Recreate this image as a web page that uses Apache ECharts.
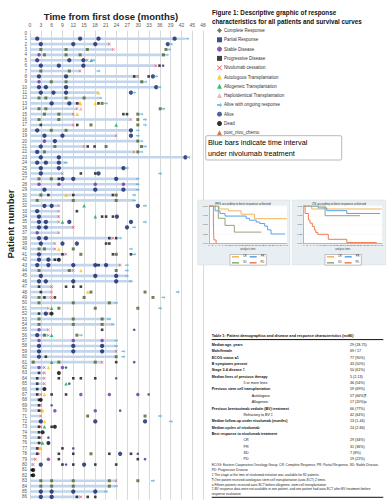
<!DOCTYPE html>
<html><head><meta charset="utf-8">
<script src="https://cdn.jsdelivr.net/npm/echarts@6/dist/echarts.min.js"></script>
<style>html,body{margin:0;padding:0;background:#fff}#c{width:387px;height:500px}</style>
</head><body><div id="c"></div>
<script>
// ---------- DATA ----------
const patientIds = []; for (let i = 0; i <= 86; i++) patientIds.push(String(i));
// end of nivolumab treatment (months), index = patient number
const barEnd = [null,43,22,23,37.5,16,35,14,30,31.5,35,19,19,13.1,13.1,12,28,12,28,24,30,15,29,43,10,27,9,30,30,30,23,29,8,8,8,8,12,8,23,7,7,10,8,25,12,27,28,6,6,6,24,5,5.6,22,23,5,5,24,24,24,24,20,4,4,4,4,4,3,3,3,3,3,3,3,3.5,3,3,2.5,2.5,1.5,1,1,1,24,24,21,14];
// events: [patient, month]
const crPts = [[3,3],[3,10],[3,15.9],[3,37.7],[4,4],[4,10],[4,13.9],[4,37],[7,3],[7,10.9],[9,5.9],[9,10],[9,31],[12,2.5],[12,4.4],[12,10],[12,15],[13,20],[14,2.5],[14,4.4],[14,36.1],[15,4],[15,8],[15,29.9],[16,2.5],[16,8],[16,29.9],[17,16.9],[17,29.9],[18,5.9],[18,10],[20,29.9],[21,6.9],[21,21.1],[21,30.9],[22,4],[22,29.9],[27,2.5],[27,5.9],[30,3],[30,23.9],[31,2],[31,12],[31,23.9],[40,2.5],[40,4],[40,12],[41,14.1],[41,23.9],[44,2.5],[44,10.9],[44,23.9],[48,16.9],[48,31.9],[49,2.5],[49,15],[49,34.1],[50,2.5],[50,12],[50,22],[51,8],[51,18.1],[51,29.9],[53,2.5],[53,12],[53,20],[54,2.5],[54,12],[54,20],[56,4],[56,13],[60,23.9],[61,0.9],[61,8],[61,18.1],[71,16],[71,31.9],[78,16.9],[83,3],[83,6],[83,12],[83,22],[83,29.9],[84,3],[84,6],[84,12],[84,22]];
const prPts = [[1,2],[1,13.9],[1,19],[1,40.1],[2,3],[2,12],[2,18.1],[2,38.2],[5,2],[5,10.9],[5,14.8],[6,3],[6,8],[6,14.8],[8,2.5],[8,10],[8,34.1],[10,2.5],[10,4.4],[10,10],[10,35],[11,3],[11,6.5],[11,10],[11,28],[13,6],[13,10.9],[18,2],[18,28],[19,4],[19,9],[19,28],[20,6.9],[21,3],[22,2],[23,3],[23,8],[23,43.1],[24,2],[24,4.4],[24,8],[25,3],[25,8],[25,25.9],[26,3],[26,19],[27,9],[27,12],[27,23.9],[29,4],[29,18.1],[29,25.9],[32,4],[32,6],[32,29.9],[33,2],[34,2.5],[34,24.1],[35,2.5],[35,4.4],[35,10.9],[35,28],[36,2.5],[36,4.4],[36,26.9],[38,2.5],[38,4.4],[39,3],[39,9],[39,13],[41,2.5],[42,2.5],[42,5.1],[43,2],[43,5.1],[43,12],[43,18.1],[43,21.1],[45,3],[45,18.1],[45,23.9],[46,2.5],[46,4.4],[46,12],[46,23.9],[52,4.4],[56,2],[58,2.5],[58,12],[58,20],[59,2.5],[59,12],[59,20],[60,2.5],[72,3],[72,18.1],[72,31.9],[78,25],[80,3],[80,15],[85,3],[85,6],[85,12],[85,18.1],[86,3],[86,6]];
const sdPts = [[4,2.5],[9,2.5],[20,4],[28,2.5],[28,8],[28,18.1],[28,25.9],[37,2],[55,2.5],[57,2.5],[57,12],[57,20],[62,2.5],[62,9],[67,14.1],[67,22],[67,29.9],[70,6.9],[70,18.1],[79,5.1]];
const pdPts = [[6,35.9],[8,28.9],[8,32.9],[13,13.1],[13,19],[15,25.9],[15,26.9],[17,3],[17,13.1],[21,16],[21,17.9],[26,14.1],[26,18.1],[27,8],[30,5.1],[30,12],[30,23],[33,13],[34,20],[34,21.1],[34,23],[38,22],[38,23.9],[39,21.1],[39,22],[41,9],[41,23],[41,28],[42,6.9],[43,19],[47,2.5],[47,10],[47,12],[47,14.1],[48,3],[49,4],[49,6.9],[52,2.5],[55,20],[60,4.4],[61,23.9],[63,2.5],[64,2],[64,8],[64,12],[64,14.1],[64,18.1],[65,2],[66,2],[67,2],[67,6],[67,10],[68,2.5],[69,2.5],[70,2.5],[73,2.5],[73,6],[74,2.5],[75,2.5],[76,2.5],[77,2],[77,9],[78,2],[78,8],[78,12],[78,22],[78,28],[79,8],[79,29.9],[80,9],[80,12],[80,18.1],[80,23.9],[81,0.5],[82,0.5],[86,13],[86,16],[86,18.1]];
const stopPts = [[2,22],[3,23.1],[5,15.9],[6,34.9],[7,13.9],[8,29.9],[13,13.6],[14,13.1],[15,12],[16,28],[17,12],[19,23.9],[21,15],[22,28.9],[26,9],[32,8],[33,8],[34,8],[35,8],[36,12],[37,8],[38,23],[39,6.9],[40,6.9],[41,10],[43,25],[44,12],[47,6],[48,6],[49,6],[51,5.1],[52,5.6],[55,5.1],[56,5.1],[59,23.9],[61,20],[62,4],[63,4],[64,4],[65,4],[67,3],[69,3],[70,3],[71,3],[73,3],[75,3],[76,3],[77,2.5],[78,2.5],[79,1.5],[80,0.9],[83,23.9],[86,14.1]];
const autoPts = [[11,19],[13,14],[13,18.1],[15,13.1],[30,10],[40,8],[44,14.1],[48,16],[62,5.1],[67,4],[70,3.5],[72,4],[77,3]];
const alloPts = [[5,17],[17,23.9],[32,15],[34,18.1],[35,9],[51,6],[56,6],[61,6],[65,10],[73,4],[76,3.5]];
const haploPts = [[14,14.1]];
const ongoingPts = [[1,43.6],[2,39.1],[3,38.6],[4,38],[5,17.6],[7,19],[8,35],[9,32],[10,35.9],[11,28.9],[12,19.5],[13,21.1],[14,37],[15,30.9],[16,31.9],[17,31.9],[18,29.9],[19,29.9],[20,30.9],[21,31.9],[22,30.9],[23,44],[24,10],[25,26.9],[26,36.1],[27,29.9],[28,29.9],[29,29.9],[30,28.9],[31,28.9],[32,31.9],[35,31.9],[36,28.9],[38,25],[40,28],[41,28.9],[43,26.9],[44,26.9],[45,26.9],[46,28],[48,41],[49,37],[50,23.9],[51,36.1],[53,22],[54,23],[56,14.1],[57,23.9],[58,23.9],[59,25.9],[60,25.9],[71,36.1],[72,39.1],[83,34.1],[84,23.9],[85,21.1]];
const alivePts = [[6,36.9],[55,28.9],[61,28.9],[62,10],[64,23.9],[65,10.9],[67,32.9],[69,6],[70,25],[75,5.1],[77,12],[78,29.9],[79,31.9],[80,10]];
const deadPts = [[42,8],[52,6],[63,8],[66,4],[68,3],[73,6.9],[74,3.5],[76,5.1],[81,0.9],[82,0.9]];
const postChemoPts = [];

// Kaplan-Meier curves: [month, survival]
const pfsCR = [[0,1],[6,0.92],[11.5,0.87],[19,0.78],[27,0.66],[46,0.66]];
const pfsPR = [[0,1],[3.6,0.87],[6.5,0.8],[9.5,0.73],[22,0.67],[24,0.62],[28,0.57],[30,0.53],[33,0.46],[34.7,0.36],[36.7,0.25],[45,0.25]];
const pfsSD = [[0,1],[5.5,0.67],[9.5,0.48],[15,0.3],[31,0.3]];
const pfsPD = [[0,1],[2.6,0.55],[2.9,0.09],[4.2,0],[4.4,0]];
const osCR = [[0,1],[4.7,0.92],[46,0.92]];
const osPR = [[0,1],[8.6,0.95],[13.6,0.875],[25.4,0.8],[45,0.8]];
const osSD = [[0,1],[12.6,0.74],[33.2,0.74]];
const osPD = [[0,1],[0.8,0.8],[2.75,0.625],[3.7,0.54],[5.1,0.45],[6.3,0.36],[7.1,0.29],[8.3,0.24],[14.5,0.107],[25.4,0.02],[43,0.02]];

// Table 1
const tableLabels = ["Median age, years","Male/female","ECOG status \u22641","B symptoms present","Stage 3-4 disease \u2021","Median lines of previous therapy","5 or more lines","Previous stem cell transplantation","Autologous","Allogeneic","Previous brentuximab vedotin (BV) treatment","Refractory to BV \u2021","Median follow-up under nivolumab (months)","Median cycles of nivolumab","Best response to nivolumab treatment","CR","PR","SD","PD"];
const tableValues = ["29 (18-75)","69 / 17","77 (90%)","43 (50%)","50 (61%)","5 (2-13)","46 (54%)","59 (69%)","57 (66%)\u00b6","17 (20%)a","66 (77%)","42 (64%)","13 (1-44)","24 (2-84)","","29 (34%)","31 (36%)","7 (8%)","19 (22%)"];
const tableIndent = [0,0,0,0,0,0,1,0,2,2,0,1,0,0,0,1,1,1,1];
const footnotes = ["ECOG: Eastern Cooperative Oncology Group, CR: Complete Response, PR: Partial Response, SD: Stable Disease,","PD: Progressive Disease","\u2021 The stage at the time of nivolumab initiation was available for 82 patients","\u00b6 One patient received autologous stem cell transplantation (auto-SCT) 2 times","a Fifteen patients received auto-SCT before allogeneic stem cell transplantation","\u2021 BV response data were not available in one patient, and one patient had auto-SCT after BV treatment before","response evaluation"];

// ---------- CHART ----------
const NARROW = '"Liberation Sans Narrow","Liberation Sans",Arial,sans-serif';
const SANS = '"Liberation Sans",Arial,sans-serif';
const X_PATH = 'path://M1,0L5,4L9,0L10,1L6,5L10,9L9,10L5,6L1,10L0,9L4,5L0,1Z';
const ARROW_PATH = 'path://M0,3L6,3L6,0L10,5L6,10L6,7L0,7Z';
const flip = a => a.map(p => [p[1], p[0]]);

function ev(name, pts, symbol, size, color, extra) {
  return Object.assign({
    name, type: 'scatter', xAxisIndex: 0, yAxisIndex: 0, data: flip(pts),
    symbol, symbolSize: size, itemStyle: { color }, silent: true, z: 5
  }, extra || {});
}
function km(name, data, color, idx) {
  return { name, type: 'line', step: 'end', xAxisIndex: idx, yAxisIndex: idx, data,
    symbol: 'none', lineStyle: { color, width: 1 }, itemStyle: { color }, z: 30, silent: true };
}
const KC = { CR: '#f2b35c', PR: '#5aa2e8', SD: '#93a67a', PD: '#ef7d52' };

const graphics = [];
graphics.push({ type: 'text', x: 111, y: 16, style: { text: 'Time from first dose (months)', fontSize: 9.5, fontWeight: 'bold', fontFamily: NARROW, fill: '#222', align: 'center', verticalAlign: 'middle' } });
graphics.push({ type: 'text', x: 10, y: 224, rotation: Math.PI / 2, style: { text: 'Patient number', fontSize: 9.5, fontWeight: 'bold', fontFamily: NARROW, fill: '#222', align: 'center', verticalAlign: 'middle' } });
graphics.push({ type: 'text', x: 212, y: 12, style: { text: 'Figure 1: Descriptive graphic of response', fontSize: 6.3, fontWeight: 'bold', fontFamily: NARROW, fill: '#111', align: 'left', verticalAlign: 'middle' } });
graphics.push({ type: 'text', x: 212, y: 21.5, style: { text: 'characteristics for all patients and survival curves', fontSize: 6.3, fontWeight: 'bold', fontFamily: NARROW, fill: '#111', align: 'left', verticalAlign: 'middle' } });
// note box
graphics.push({ type: 'rect', shape: { x: 205.7, y: 135.7, width: 136, height: 24.3, r: 1.5 }, style: { fill: '#fff', stroke: '#a6a6a6', lineWidth: 0.8 }, z: 1 });
graphics.push({ type: 'text', x: 208, y: 142.7, z: 2, style: { text: 'Blue bars indicate time interval', fontSize: 7.3, fontFamily: SANS, fill: '#000', align: 'left', verticalAlign: 'middle' } });
graphics.push({ type: 'text', x: 208, y: 153.3, z: 2, style: { text: 'under nivolumab treatment', fontSize: 7.3, fontFamily: SANS, fill: '#000', align: 'left', verticalAlign: 'middle' } });
// KM panels
[[197.7, 92.3, 243, 'PFS according to best response achieved'], [292.3, 93.4, 339, 'OS according to best response achieved']].forEach(([x, w, cx, t]) => {
  graphics.push({ type: 'rect', shape: { x, y: 200, width: w, height: 65 }, style: { fill: '#e8eef2', stroke: '#d5dde3', lineWidth: 0.5 }, z: 20 });
  graphics.push({ type: 'text', x: cx, y: 203.4, z: 21, style: { text: t, fontSize: 3, fontFamily: SANS, fill: '#333', align: 'center', verticalAlign: 'middle' } });
});
graphics.push({ type: 'rect', shape: { x: 209, y: 205.5, width: 78, height: 38 }, style: { fill: '#fff' }, z: 21 });
graphics.push({ type: 'rect', shape: { x: 303.7, y: 205.5, width: 78.5, height: 38 }, style: { fill: '#fff' }, z: 21 });
// table
graphics.push({ type: 'text', x: 211.7, y: 335.8, style: { text: 'Table 1: Patient demographics and disease and response characteristics (n=86)', fontSize: 3.75, fontWeight: 'bold', fontFamily: SANS, fill: '#111', align: 'left', verticalAlign: 'middle' } });
graphics.push({ type: 'line', shape: { x1: 211.7, y1: 339.6, x2: 383.3, y2: 339.6 }, style: { stroke: '#111', lineWidth: 1 } });
const indentX = [211.7, 243.5, 251.7];
tableLabels.forEach((lab, i) => {
  const y = 345 + i * 6.35;
  graphics.push({ type: 'text', x: indentX[tableIndent[i]], y, style: { text: lab, fontSize: 3.6, fontWeight: tableIndent[i] ? 'normal' : 'bold', fontFamily: SANS, fill: '#111', align: 'left', verticalAlign: 'middle' } });
  if (tableValues[i]) graphics.push({ type: 'text', x: 350, y, style: { text: tableValues[i], fontSize: 3.6, fontFamily: SANS, fill: '#111', align: 'left', verticalAlign: 'middle' } });
});
footnotes.forEach((f, i) => {
  graphics.push({ type: 'text', x: 211.7, y: 465 + i * 4.85, style: { text: f, fontSize: 3.25, fontFamily: SANS, fill: '#222', align: 'left', verticalAlign: 'middle' } });
});
graphics.push({ type: 'line', shape: { x1: 211.7, y1: 497.3, x2: 383.3, y2: 497.3 }, style: { stroke: '#111', lineWidth: 1 } });

const kmAxisX = (g) => ({ gridIndex: g, type: 'value', min: 0, max: 46, interval: 2, z: 30,
  axisLine: { show: true, lineStyle: { color: '#777', width: 0.5 } }, axisTick: { show: false }, splitLine: { show: false },
  axisLabel: { fontSize: 2.4, color: '#444', margin: 1.5, fontFamily: SANS },
  name: 'analysis time', nameLocation: 'middle', nameGap: 4.5, nameTextStyle: { fontSize: 2.6, color: '#444' } });
const kmAxisY = (g) => ({ gridIndex: g, type: 'value', min: 0, max: 1, interval: 0.25, z: 30,
  axisLine: { show: true, lineStyle: { color: '#777', width: 0.5 } }, axisTick: { show: false },
  splitLine: { show: true, lineStyle: { color: '#eee', width: 0.4 } },
  axisLabel: { fontSize: 2.4, color: '#444', margin: 1.5, formatter: v => v.toFixed(2) } });
const kmLegend = (left) => ({ data: ['CR', 'PR', 'SD', 'PD'], left, top: 254.5, width: 36, orient: 'horizontal', z: 30,
  itemWidth: 7, itemHeight: 1.5, itemGap: 3, padding: [0.8, 2, 0.8, 2], backgroundColor: '#fff', borderColor: '#888', borderWidth: 0.5,
  icon: 'rect', textStyle: { fontSize: 2.6, color: '#333', padding: [0, 0, 0, -1] }, selectedMode: false });

const option = {
  animation: false,
  textStyle: { fontFamily: SANS },
  grid: [
    { left: 30, top: 30.6, width: 173.1, height: 469 },
    { left: 209, top: 206, width: 77.7, height: 37.3 },
    { left: 303.7, top: 206, width: 78, height: 37.3 }
  ],
  xAxis: [
    { gridIndex: 0, type: 'value', position: 'top', min: 0, max: 48, interval: 3,
      axisLine: { show: false }, axisTick: { show: false },
      axisLabel: { fontSize: 5, color: '#595959', margin: 3 },
      splitLine: { show: true, lineStyle: { color: '#d9d9d9', width: 1 } } },
    kmAxisX(1), kmAxisX(2)
  ],
  yAxis: [
    { gridIndex: 0, type: 'category', data: patientIds, inverse: true,
      axisLine: { show: false }, axisTick: { show: false },
      axisLabel: { fontSize: 4.6, color: '#595959', interval: 0, margin: 3 } },
    kmAxisY(1), kmAxisY(2)
  ],
  legend: [
    { left: 212, top: 23, orient: 'vertical', itemWidth: 5, itemHeight: 5, itemGap: 4.3, selectedMode: false,
      textStyle: { fontSize: 4.5, color: '#333', padding: [0, 0, 0, -3] },
      data: [
        { name: 'Complete Response', icon: 'diamond' },
        { name: 'Partial Response', icon: 'rect' },
        { name: 'Stable Disease', icon: 'circle' },
        { name: 'Progressive Disease', icon: 'rect' },
        { name: 'Nivolumab cessation', icon: X_PATH },
        { name: 'Autologous Transplantation', icon: 'triangle' },
        { name: 'Allogeneic Transplantation', icon: 'triangle' },
        { name: 'Haploidentical Transplantation', icon: 'triangle' },
        { name: 'Alive with ongoing response', icon: ARROW_PATH },
        { name: 'Alive', icon: 'circle' },
        { name: 'Dead', icon: 'circle' },
        { name: 'post_nivo_chemo', icon: 'triangle' }
      ] },
    kmLegend(230), kmLegend(325)
  ],
  graphic: { elements: graphics },
  series: [
    { name: 'Treatment', type: 'bar', xAxisIndex: 0, yAxisIndex: 0, data: barEnd, barWidth: 2.6,
      itemStyle: { color: '#c3d5ec' }, silent: true, z: 2 },
    ev('Complete Response', crPts, 'rect', 3, '#4f6228'),
    ev('Partial Response', prPts, 'circle', 4.3, '#0f2266'),
    ev('Stable Disease', sdPts, 'circle', 3.5, '#7030a0'),
    ev('Progressive Disease', pdPts, 'rect', 2.6, '#111111'),
    ev('Nivolumab cessation', stopPts, X_PATH, 3, '#e3262d'),
    ev('Autologous Transplantation', autoPts, 'triangle', 3.6, '#ffc000'),
    ev('Allogeneic Transplantation', alloPts, 'triangle', 3.6, '#00b050'),
    ev('Haploidentical Transplantation', haploPts, 'triangle', 3.6, '#f4a3a3'),
    ev('Alive with ongoing response', ongoingPts, ARROW_PATH, [4, 3.4], '#5fb0d8'),
    ev('Alive', alivePts, 'circle', 2.6, '#1f3c88'),
    ev('Dead', deadPts, 'circle', 4, '#000000'),
    ev('post_nivo_chemo', postChemoPts, 'triangle', 3, '#c55a11'),
    km('CR', pfsCR, KC.CR, 1), km('PR', pfsPR, KC.PR, 1), km('SD', pfsSD, KC.SD, 1), km('PD', pfsPD, KC.PD, 1),
    km('CR', osCR, KC.CR, 2), km('PR', osPR, KC.PR, 2), km('SD', osSD, KC.SD, 2), km('PD', osPD, KC.PD, 2)
  ]
};
const chart = echarts.init(document.getElementById('c'), null, { renderer: 'svg' });
chart.setOption(option);
</script></body></html>
